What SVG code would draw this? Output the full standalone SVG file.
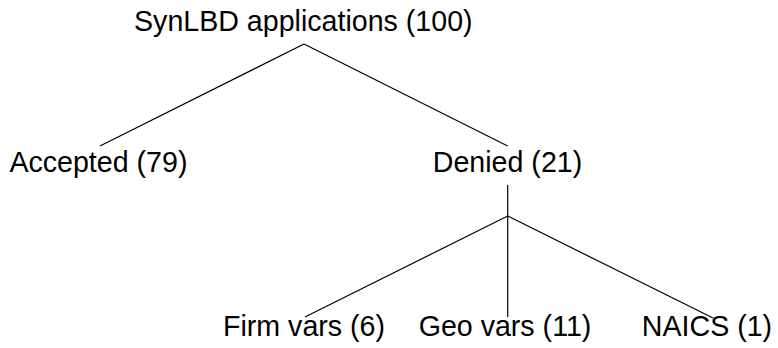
<svg xmlns="http://www.w3.org/2000/svg" width="778" height="348" viewBox="0 0 778 348">
<style>
text{font-family:"Liberation Sans",Arial,sans-serif;font-size:28.6px;fill:#000;text-anchor:middle}
line{stroke:#000;stroke-width:1.2}
</style>
<rect width="778" height="348" fill="#fff"/>
<g id="connectors">
<line x1="304" y1="44" x2="100" y2="146"/>
<line x1="304" y1="44" x2="507.7" y2="146"/>
<line x1="507.7" y1="185" x2="507.7" y2="317"/>
<line x1="507.7" y1="216" x2="305" y2="317"/>
<line x1="507.7" y1="216" x2="713" y2="318"/>
</g>
<g id="root"><text x="303.3" y="31">SynLBD applications (100)</text></g>
<g id="accepted"><text x="98.4" y="171.5">Accepted (79)</text></g>
<g id="denied"><text x="507.5" y="171.5">Denied (21)</text></g>
<g id="firm"><text x="304" y="336">Firm vars (6)</text></g>
<g id="geo"><text x="505" y="336">Geo vars (11)</text></g>
<g id="naics"><text x="707" y="336">NAICS (1)</text></g>
</svg>
